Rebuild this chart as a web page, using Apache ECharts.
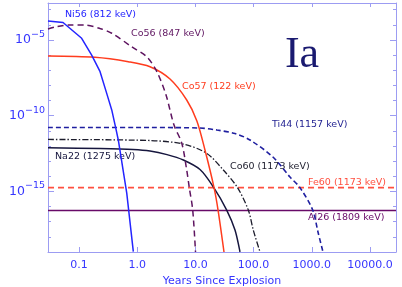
<!DOCTYPE html>
<html><head><meta charset="utf-8">
<script src="https://cdn.jsdelivr.net/npm/echarts@6/dist/echarts.min.js"></script>
<style>html,body{margin:0;padding:0;background:#fff}#c{width:402px;height:287px}</style>
</head><body><div id="c"></div>
<script>
// tick values
const xTickValues = [0.1, 1, 10, 100, 1000, 10000];
const yLabelValues = [1e-5, 1e-10, 1e-15];
const yDecadeValues = [1e-19, 1e-18, 1e-17, 1e-16, 1e-15, 1e-14, 1e-13, 1e-12, 1e-11, 1e-10, 1e-9, 1e-8, 1e-7, 1e-6, 1e-5, 1e-4, 1e-3];

// series values: [years, flux]
const ni56 = [[0.0293,1.8e-4],[0.0531,1.43e-4],[0.111,1.3e-5],[0.165,1.0e-6],[0.230,8.1e-8],[0.299,3.0e-9],[0.365,2.4e-10],[0.428,1.5e-11],[0.473,2.5e-12],[0.661,7.8e-16],[0.857,1.05e-19]];
const co56 = [[0.0293,5.3e-5],[0.0419,7.8e-5],[0.070,9.8e-5],[0.127,9.8e-5],[0.230,5.75e-5],[0.365,2.8e-5],[0.804,3.6e-6],[1.47,7.5e-7],[2.19,7.7e-8],[3.13,2.3e-9],[4.29,2.4e-11],[5.82,1.57e-12],[7.09,2.6e-14],[7.85,1.78e-15],[8.99,5.9e-17],[10.04,1e-19]];
const co57 = [[0.0293,8.8e-7],[0.188,7.2e-7],[0.703,3.7e-7],[1.66,1.72e-7],[3.66,2.65e-8],[7.09,1.09e-9],[10.6,4.5e-11],[14.6,5.4e-13],[20.9,1.78e-15],[24.5,5.9e-17],[31.0,1e-19]];
const ti44 = [[0.0293,1.66e-11],[1.66,1.66e-11],[12.0,1.54e-11],[23.5,1.13e-11],[47.9,6.7e-12],[86.7,2.5e-12],[215,1.87e-13],[422,8.9e-15],[627,1.78e-15],[1036,5.9e-17],[1278,2.1e-18],[1557,1e-19]];
const na22 = [[0.0293,7.6e-13],[0.230,6.8e-13],[0.847,5.9e-13],[1.66,4.7e-13],[3.25,2.7e-13],[6.2,1.19e-13],[12.0,2.8e-14],[20.3,2.0e-15],[34.5,5.9e-17],[47.9,2.8e-18],[58.4,1e-19]];
const co60 = [[0.0293,2.7e-12],[1.66,2.3e-12],[6.2,1.35e-12],[15.6,3.3e-13],[30.2,2.6e-14],[52.9,1.78e-15],[81.1,5.9e-17],[98.8,2.8e-18],[129,1e-19]];
const fe60 = [[0.0293,1.78e-15],[28000,1.78e-15]];
const al26 = [[0.0293,5.6e-17],[28000,5.6e-17]];

const X_MIN = 0.0293, X_MAX = 28000, Y_MIN = 1e-19, Y_MAX = 2.78e-3;
const AXIS_C = '#9c9cf2', LABEL_C = '#3636ff';
const FONT = '"DejaVu Sans"';

const chart = echarts.init(document.getElementById('c'), null, {renderer: 'canvas'});

function lineSeries(name, data, color, type, width, smooth) {
  return {
    name, type: 'line', data, showSymbol: false, symbol: 'none', smooth: smooth,
    xAxisIndex: 0, yAxisIndex: 0, clip: true, silent: true,
    lineStyle: {color, width, type}
  };
}
function yAx(pos, showLine, tickVals, tickLen, labels) {
  return {
    type: 'log', logBase: 10, position: pos, min: Y_MIN, max: Y_MAX,
    axisLine: {show: showLine, lineStyle: {color: AXIS_C, width: 1}},
    axisTick: {show: true, inside: true, length: tickLen, customValues: tickVals, lineStyle: {color: AXIS_C}},
    minorTick: {show: false}, splitLine: {show: false},
    axisLabel: labels ? {
      show: true, customValues: yLabelValues, margin: 3,
      formatter: function (v) { return '{a|10}{b|\u2212' + Math.round(-Math.log10(v)) + '}'; },
      rich: {
        a: {fontSize: 12.5, fontFamily: 'DejaVu Sans', color: LABEL_C},
        b: {fontSize: 9.5, fontFamily: 'DejaVu Sans', color: LABEL_C, padding: [0, 0, 11, 0]}
      }
    } : {show: false}
  };
}
function xAx(pos, tickLen, labels) {
  return {
    type: 'log', logBase: 10, position: pos, min: X_MIN, max: X_MAX,
    axisLine: {show: true, lineStyle: {color: AXIS_C, width: 1}},
    axisTick: {show: true, inside: true, length: tickLen, customValues: xTickValues, lineStyle: {color: AXIS_C}},
    minorTick: {show: false}, splitLine: {show: false},
    name: labels ? 'Years Since Explosion' : '',
    nameLocation: 'middle', nameGap: 19,
    nameTextStyle: {color: LABEL_C, fontSize: 11, fontFamily: 'DejaVu Sans'},
    axisLabel: labels ? {
      show: true, customValues: xTickValues, margin: 8, color: LABEL_C, fontSize: 11, fontFamily: 'DejaVu Sans',
      formatter: function (v) { return Number(v).toFixed(1); }
    } : {show: false}
  };
}

function txt(x, y, text, color, size, family, align) {
  return {
    type: 'text', x: x, y: y, silent: true,
    style: {text: text, fill: color, font: (size) + 'px ' + (family || FONT),
            textAlign: align || 'left', textVerticalAlign: 'middle', align: align || 'left', verticalAlign: 'middle'}
  };
}

chart.setOption({
  animation: false,
  backgroundColor: '#ffffff',
  grid: {left: 48, right: 6, top: 3, bottom: 35, containLabel: false, outerBoundsMode: 'none'},
  xAxis: [xAx('bottom', 5, true), xAx('top', 4, false)],
  yAxis: [
    yAx('left', true, yLabelValues, 6, true),
    yAx('left', false, yDecadeValues, 3, false),
    yAx('right', true, yLabelValues, 6, false),
    yAx('right', false, yDecadeValues, 3, false)
  ],
  series: [
    lineSeries('Al26', al26, '#680a68', 'solid', 1.5, false),
    lineSeries('Fe60', fe60, '#ff5040', [6, 4], 1.6, false),
    lineSeries('Na22', na22, '#16163e', 'solid', 1.5, 0.3),
    lineSeries('Co60', co60, '#1c1c2c', [6, 2, 1.5, 2], 1.3, 0.3),
    lineSeries('Ti44', ti44, '#1f1fa0', [5, 3], 1.6, 0.3),
    lineSeries('Co57', co57, '#ff3c1e', 'solid', 1.5, 0.3),
    lineSeries('Co56', co56, '#5e1460', [6, 4], 1.5, 0.3),
    lineSeries('Ni56', ni56, '#2424ff', 'solid', 1.5, false)
  ],
  graphic: [
    txt(65, 14.5, 'Ni56 (812 keV)', '#2424ff', 9.5),
    txt(131, 33.5, 'Co56 (847 keV)', '#5e1460', 9.5),
    txt(182, 87, 'Co57 (122 keV)', '#ff3c1e', 9.5),
    txt(272, 125, 'Ti44 (1157 keV)', '#1f1f90', 9.5),
    txt(55, 157, 'Na22 (1275 keV)', '#16163e', 9.5),
    txt(230, 167, 'Co60 (1173 keV)', '#1c1c2c', 9.5),
    txt(308, 182.5, 'Fe60 (1173 keV)', '#ff5040', 9.5),
    txt(308, 217.5, 'Al26 (1809 keV)', '#680a68', 9.5),
    txt(302, 55, 'Ia', '#1a1a70', 44, '"Liberation Serif"', 'center')
  ]
});
</script></body></html>
